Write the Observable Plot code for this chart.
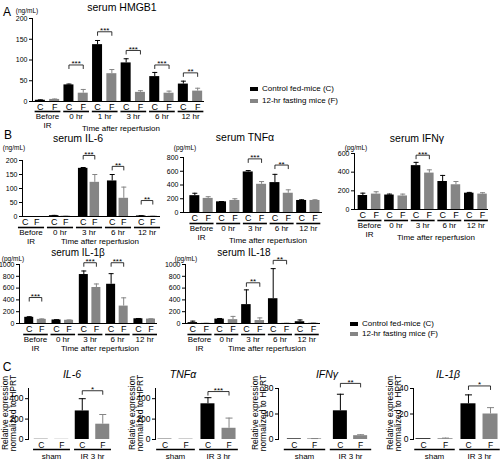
<!DOCTYPE html>
<html><head><meta charset="utf-8">
<script src="https://cdn.jsdelivr.net/npm/d3@7"></script>
<script src="https://cdn.jsdelivr.net/npm/@observablehq/plot@0.6"></script>
<style>
html,body{margin:0;padding:0;background:#fff;}
#fig{position:relative;width:501px;height:465px;overflow:hidden;font-family:"Liberation Sans",Arial,sans-serif;color:#000;}
#fig svg{position:absolute;overflow:visible;}
.lbl{position:absolute;white-space:nowrap;transform:translate(-50%,-50%);line-height:1;}
.lft{position:absolute;white-space:nowrap;transform:translate(0,-50%);line-height:1;}
.rot{position:absolute;white-space:nowrap;transform:translate(-50%,-50%) rotate(-90deg);line-height:1;}
.sw{position:absolute;}
</style></head><body><div id="fig"></div>
<script>
// ---------------- data ----------------
const conditions = ["C", "F"];
const legendLabels = ["Control fed-mice (C)", "12-hr fasting mice (F)"];
const timeGroupsA = ["Before\nIR", "0 hr", "1 hr", "3 hr", "6 hr", "12 hr"];
const timeGroupsB = ["Before\nIR", "0 hr", "3 hr", "6 hr", "12 hr"];
const geneGroups = ["sham", "IR 3 hr"];

// A: serum HMGB1 (ng/mL)
const hmgb1C = [3, 40, 137, 93, 60, 42];
const hmgb1CErr = [1, 2, 10, 10, 10, 7];
const hmgb1F = [5, 20, 67, 22, 20, 25];
const hmgb1FErr = [1, 9, 10, 4, 5, 7];
const hmgb1Sig = [{group:"0 hr", y:88, text:"***"}, {group:"1 hr", y:168, text:"***"}, {group:"3 hr", y:123, text:"***"}, {group:"6 hr", y:88, text:"***"}, {group:"12 hr", y:69, text:"**"}];
const hmgb1Ticks = [0, 50, 100, 150, 200];

// B: serum IL-6 (ng/mL)
const il6C = [0, 3, 172, 127, 2];
const il6CErr = [0, 1, 3, 23, 1];
const il6F = [0, 1, 122, 65, 1];
const il6FErr = [0, 0.5, 28, 40, 0.5];
const il6Sig = [{group:"3 hr", y:218, text:"***"}, {group:"6 hr", y:179, text:"**"}, {group:"12 hr", y:57, text:"**"}];
const il6Ticks = [0, 50, 100, 150, 200];

// B: serum TNFα (pg/mL)
const tnfC = [245, 155, 590, 435, 175];
const tnfCErr = [35, 5, 20, 120, 10];
const tnfF = [205, 175, 410, 280, 175];
const tnfFErr = [25, 25, 40, 50, 10];
const tnfSig = [{group:"3 hr", y:780, text:"***"}, {group:"6 hr", y:690, text:"**"}];
const tnfTicks = [0, 200, 400, 600, 800];

// B: serum IFNγ (pg/mL)
const ifnC = [150, 155, 470, 300, 175];
const ifnCErr = [25, 10, 35, 65, 8];
const ifnF = [165, 145, 390, 265, 165];
const ifnFErr = [25, 20, 35, 35, 15];
const ifnSig = [{group:"3 hr", y:582, text:"***"}];
const ifnTicks = [0, 200, 400, 600];

// B: serum IL-1β (pg/mL)
const il1bC = [105, 60, 830, 665, 80];
const il1bCErr = [10, 5, 60, 180, 5];
const il1bF = [70, 55, 610, 295, 75];
const il1bFErr = [8, 5, 60, 140, 5];
const il1bSig = [{group:"Before\nIR", y:440, text:"***"}, {group:"3 hr", y:1030, text:"***"}, {group:"6 hr", y:1030, text:"***"}];
const il1bTicks = [0, 200, 400, 600, 800, 1000];

// B: serum IL-18 (pg/mL)
const il18C = [15, 75, 320, 420, 30];
const il18CErr = [25, 10, 250, 510, 30];
const il18F = [3, 65, 50, 3, 5];
const il18FErr = [2, 55, 45, 2, 5];
const il18Sig = [{group:"3 hr", y:690, text:"**"}, {group:"6 hr", y:1070, text:"**"}];
const il18Ticks = [0, 200, 400, 600, 800, 1000];

// C: relative expression normalized to HPRT
const gIl6C = [2, 280], gIl6CErr = [0, 120], gIl6F = [2, 150], gIl6FErr = [0, 95];
const gIl6Sig = [{group:"IR 3 hr", y:478, text:"*"}];
const gTnfC = [3, 350], gTnfCErr = [0, 60], gTnfF = [4, 110], gTnfFErr = [0, 100];
const gTnfSig = [{group:"IR 3 hr", y:470, text:"***"}];
const gIfnC = [1, 45], gIfnCErr = [0, 26], gIfnF = [1, 6], gIfnFErr = [0.5, 1.5];
const gIfnSig = [{group:"IR 3 hr", y:88, text:"**"}];
const gIl1bC = [0.6, 28], gIl1bCErr = [0, 7], gIl1bF = [0.6, 20], gIl1bFErr = [0.5, 5];
const gIl1bSig = [{group:"IR 3 hr", y:42, text:"*"}];
const gTicks500 = [0, 200, 400], gTicks80 = [0, 40, 80], gTicks40 = [0, 20, 40];

// ---------------- drawing ----------------
const BLACK = "#000", GRAY = "#858585";
const FONT = '"Liberation Sans", Arial, sans-serif';
const fig = document.getElementById("fig");

function panel(o) {
  const L = o.L, mL = 40, mR = 12, mT = 30, mB = 50;
  const W = L.right - L.left, H = L.bottom - L.top;
  const x0 = -(L.g0 - L.left) / L.step, x1 = (L.right - L.g0) / L.step;
  const rows = [];
  o.groups.forEach((g, i) => {
    rows.push({g, i, cond: conditions[0], pos: i - L.off, v: o.c[i], e: o.ce[i]});
    rows.push({g, i, cond: conditions[1], pos: i + L.off, v: o.f[i], e: o.fe[i]});
  });
  const gRows = o.groups.map((g, i) => ({g, i}));
  const sRows = o.sig.map(s => ({...s, i: o.groups.indexOf(s.group)}));
  const tick = 4 * o.ymax / H;
  const bw = L.bw / L.step, cap = L.cap / L.step, uh = L.uh ?? 0.45;
  const isC = d => d.cond === conditions[0], isF = d => d.cond === conditions[1];
  const errMarks = (filter, color) => [
    Plot.ruleX(rows, {filter: d => filter(d) && d.e > 0, x: "pos", y1: "v", y2: d => d.v + d.e, stroke: color, strokeWidth: 1}),
    Plot.link(rows, {filter: d => filter(d) && d.e > 0, x1: d => d.pos - cap, x2: d => d.pos + cap, y1: d => d.v + d.e, y2: d => d.v + d.e, stroke: color, strokeWidth: 1})
  ];
  const marks = [
    ...errMarks(isC, BLACK), ...errMarks(isF, GRAY),
    Plot.rectY(rows, {filter: isC, x1: d => d.pos - bw, x2: d => d.pos + bw, y: "v", fill: BLACK}),
    Plot.rectY(rows, {filter: isF, x1: d => d.pos - bw, x2: d => d.pos + bw, y: "v", fill: GRAY}),
    Plot.link(sRows, {x1: d => d.i - L.off, x2: d => d.i + L.off, y1: "y", y2: "y", stroke: BLACK, strokeWidth: 0.8}),
    Plot.link(sRows, {x1: d => d.i - L.off, x2: d => d.i - L.off, y1: "y", y2: d => d.y - tick, stroke: BLACK, strokeWidth: 0.8}),
    Plot.link(sRows, {x1: d => d.i + L.off, x2: d => d.i + L.off, y1: "y", y2: d => d.y - tick, stroke: BLACK, strokeWidth: 0.8}),
    Plot.text(sRows, {x: "i", y: "y", text: "text", dy: 1.5, fontSize: 8, lineAnchor: "bottom"}),
    Plot.text(rows, {x: "pos", y: () => 0, text: "cond", dy: L.cfDy, fontSize: o.cfFont ?? 9}),
    Plot.link(gRows, {x1: d => d.i - uh, x2: d => d.i + uh, y1: () => 0, y2: () => 0, dy: L.ulDy, stroke: BLACK, strokeWidth: 1.6}),
    Plot.text(gRows, {x: "i", y: () => 0, text: "g", dy: L.gDy, lineAnchor: "top", fontSize: o.gFont ?? 8, lineHeight: 1.05})
  ];
  if (o.baseline !== false) marks.push(Plot.ruleY([0], {stroke: BLACK, strokeWidth: 1}));
  const svg = Plot.plot({
    width: W + mL + mR, height: H + mT + mB,
    marginLeft: mL, marginRight: mR, marginTop: mT, marginBottom: mB,
    x: {domain: [x0, x1], axis: null},
    y: {domain: [0, o.ymax], ticks: o.ticks, tickSize: 3, tickPadding: 2, line: true, label: null, tickFormat: d3.format("d")},
    style: {background: "transparent", overflow: "visible", fontFamily: FONT, fontSize: (o.tickFont ?? 7) + "px", color: "#000"},
    marks
  });
  svg.style.left = (L.left - mL) + "px";
  svg.style.top = (L.top - mT) + "px";
  fig.appendChild(svg);
}

function label(text, x, y, size, cls = "lbl", extra = "") {
  const d = document.createElement("div");
  d.className = cls;
  d.textContent = text;
  d.style.cssText += `left:${x}px;top:${y}px;font-size:${size}px;${extra}`;
  fig.appendChild(d);
}
function legend(x, y, gap) {
  [BLACK, GRAY].forEach((c, k) => {
    const s = document.createElement("div");
    s.className = "sw";
    s.style.cssText += `left:${x}px;top:${y + k * gap - 2}px;width:8px;height:4px;background:${c};`;
    fig.appendChild(s);
    label(legendLabels[k], x + 12, y + k * gap, 8, "lft");
  });
}

// ---- Panel A ----
panel({groups: timeGroupsA, c: hmgb1C, ce: hmgb1CErr, f: hmgb1F, fe: hmgb1FErr, sig: hmgb1Sig, ymax: 200, ticks: hmgb1Ticks,
  L: {left: 32, right: 204, top: 18, bottom: 101, g0: 47, step: 28.6, off: 0.25, bw: 5, cap: 2.5, cfDy: 6, ulDy: 10, gDy: 12}});
label("A", 7, 12, 12);
label("(ng/mL)", 27, 11, 6.5);
label("serum HMGB1", 122, 7, 10.5);
label("Time after reperfusion", 121, 129, 8);
legend(250, 89, 12);

// ---- Panel B ----
label("B", 8, 135, 12);
panel({groups: timeGroupsB, c: il6C, ce: il6CErr, f: il6F, fe: il6FErr, sig: il6Sig, ymax: 200, ticks: il6Ticks,
  L: {left: 22, right: 160, top: 160, bottom: 216, g0: 30.5, step: 29, off: 0.2, bw: 4.75, cap: 2.5, cfDy: 6, ulDy: 11, gDy: 13}});
label("serum IL-6", 78, 138, 10.5);
label("(ng/mL)", 14, 148, 6.5);
label("Time after reperfusion", 100, 242, 8);

panel({groups: timeGroupsB, c: tnfC, ce: tnfCErr, f: tnfF, fe: tnfFErr, sig: tnfSig, ymax: 800, ticks: tnfTicks,
  L: {left: 183, right: 322, top: 157, bottom: 212, g0: 201, step: 26.7, off: 0.25, bw: 5, cap: 2.5, cfDy: 6, ulDy: 11, gDy: 13}});
label("serum TNFα", 245, 137, 10.5);
label("(pg/mL)", 185, 148, 6.5);
label("Time after reperfusion", 268, 241, 8);

panel({groups: timeGroupsB, c: ifnC, ce: ifnCErr, f: ifnF, fe: ifnFErr, sig: ifnSig, ymax: 600, ticks: ifnTicks,
  L: {left: 354, right: 488, top: 153, bottom: 209, g0: 369, step: 26.6, off: 0.25, bw: 4.75, cap: 2.5, cfDy: 6, ulDy: 11, gDy: 13}});
label("serum IFNγ", 417, 138, 10.5);
label("(pg/mL)", 356, 148, 6.5);
label("Time after reperfusion", 436, 238, 8);

panel({groups: timeGroupsB, c: il1bC, ce: il1bCErr, f: il1bF, fe: il1bFErr, sig: il1bSig, ymax: 1000, ticks: il1bTicks,
  L: {left: 19, right: 157, top: 264, bottom: 323, g0: 35, step: 27.3, off: 0.23, bw: 4.5, cap: 2.5, cfDy: 6, ulDy: 11, gDy: 13}});
label("serum IL-1β", 78, 253, 10);
label("(pg/mL)", 13, 259, 6.5);
label("Time after reperfusion", 100, 349, 8);

panel({groups: timeGroupsB, c: il18C, ce: il18CErr, f: il18F, fe: il18FErr, sig: il18Sig, ymax: 1000, ticks: il18Ticks,
  L: {left: 185, right: 320, top: 264, bottom: 323, g0: 199, step: 26.8, off: 0.25, bw: 4.75, cap: 2.5, cfDy: 6, ulDy: 11, gDy: 13}});
label("serum IL-18", 244, 253, 10);
label("(pg/mL)", 186, 259, 6.5);
label("Time after reperfusion", 267, 349, 8);

legend(350, 324, 10);

// ---- Panel C ----
label("C", 7, 367, 12);
const cPanels = [
  {t: "IL-6", tx: 72, c: gIl6C, ce: gIl6CErr, f: gIl6F, fe: gIl6FErr, sig: gIl6Sig, ymax: 500, ticks: gTicks500,
   L: {left: 28, right: 112, top: 388, bottom: 439, g0: 51, step: 41, off: 0.25, bw: 7, cap: 3.5, cfDy: 6, ulDy: 10, gDy: 14}},
  {t: "TNFα", tx: 183, c: gTnfC, ce: gTnfCErr, f: gTnfF, fe: gTnfFErr, sig: gTnfSig, ymax: 500, ticks: gTicks500,
   L: {left: 155, right: 240, top: 388, bottom: 439, g0: 175, step: 43, off: 0.245, bw: 7, cap: 3.5, cfDy: 6, ulDy: 10, gDy: 14}},
  {t: "IFNγ", tx: 327, c: gIfnC, ce: gIfnCErr, f: gIfnF, fe: gIfnFErr, sig: gIfnSig, ymax: 80, ticks: gTicks80,
   L: {left: 278, right: 370, top: 388, bottom: 439, g0: 304, step: 46, off: 0.22, bw: 7, cap: 3.5, cfDy: 6, ulDy: 10, gDy: 14}},
  {t: "IL-1β", tx: 448, c: gIl1bC, ce: gIl1bCErr, f: gIl1bF, fe: gIl1bFErr, sig: gIl1bSig, ymax: 40, ticks: gTicks40,
   L: {left: 413, right: 500, top: 388, bottom: 439, g0: 434, step: 45, off: 0.245, bw: 7.5, cap: 3.5, cfDy: 6, ulDy: 10, gDy: 14}}
];
cPanels.forEach(p => {
  panel({groups: geneGroups, c: p.c, ce: p.ce, f: p.f, fe: p.fe, sig: p.sig, ymax: p.ymax, ticks: p.ticks, L: p.L,
    baseline: false, tickFont: 8.5, cfFont: 8.5, gFont: 8});
  label(p.t, p.tx, 374, 10.5, "lbl", "font-style:italic;");
  label("Relative  expression", p.L.left - 23, 413, 8.5, "rot");
  label("normalized to HPRT", p.L.left - 15, 413, 8.5, "rot");
});
</script></body></html>
